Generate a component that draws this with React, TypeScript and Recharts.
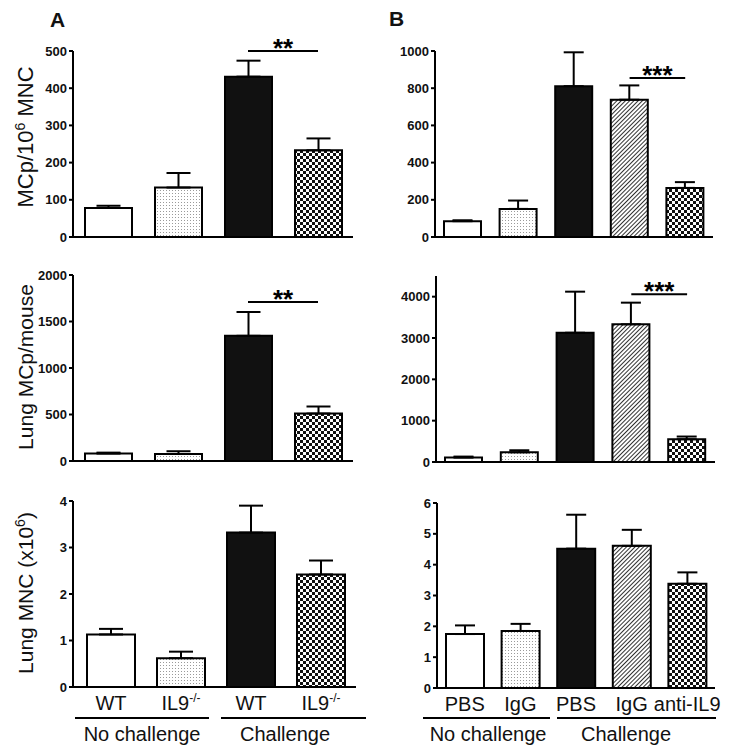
import React from "react";
import {
  Bar,
  BarChart,
  Cell,
  ErrorBar,
  ReferenceLine,
  XAxis,
  YAxis,
} from "recharts";

const FONT = '"Liberation Sans", Arial, Helvetica, sans-serif';

// categories
const keysA = ["nc-wt", "nc-il9", "c-wt", "c-il9"];
const keysB = ["nc-pbs", "nc-igg", "c-pbs", "c-igg", "c-anti"];
const tickLabelsA = ["WT", "IL9", "WT", "IL9"];
const tickSupsA = ["", "-/-", "", "-/-"];
const tickLabelsB = ["PBS", "IgG", "PBS", "IgG", "anti-IL9"];
const tickSupsB = ["", "", "", "", ""];

// panel A (WT vs IL9-/-)
const mcpPerMncA = [78, 133, 431, 233];
const mcpPerMncErrA = [6, 39, 43, 32];
const mcpPerMouseA = [80, 75, 1346, 510];
const mcpPerMouseErrA = [10, 30, 256, 76];
const lungMncA = [1.13, 0.62, 3.32, 2.42];
const lungMncErrA = [0.12, 0.14, 0.58, 0.3];

// panel B (PBS / IgG / anti-IL9)
const mcpPerMncB = [85, 151, 811, 738, 264];
const mcpPerMncErrB = [5, 45, 182, 77, 31];
const mcpPerMouseB = [107, 235, 3127, 3331, 550];
const mcpPerMouseErrB = [24, 49, 994, 524, 66];
const lungMncB = [1.75, 1.85, 4.52, 4.61, 3.38];
const lungMncErrB = [0.28, 0.23, 1.1, 0.52, 0.37];

const fillsA = ["#ffffff", "url(#dots)", "#111111", "url(#checker)"];
const fillsB = ["#ffffff", "url(#dots)", "#111111", "url(#hatch)", "url(#checker)"];

type Box = { x: number; y: number; w: number; h: number };
type Plot = { left: number; top: number; right: number; bottom: number };
type Sig = { from: string; to: string; y: number; text: string };

type PanelProps = {
  keys: string[];
  values: number[];
  errors: number[];
  fills: string[];
  domain: [number, number];
  ticks: number[];
  box: Box;
  plot: Plot;
  barSize: number;
  capWidth: number;
  padLeft?: number;
  sig?: Sig;
  tickLabels?: string[];
  tickSups?: string[];
};

function Panel({
  keys,
  values,
  errors,
  fills,
  domain,
  ticks,
  box,
  plot,
  barSize,
  capWidth,
  padLeft = 0,
  sig,
  tickLabels,
  tickSups,
}: PanelProps) {
  const data = keys.map((k, i) => ({
    key: k,
    value: values[i],
    err: [0, errors[i]],
  }));
  const xh = tickLabels ? 30 : 2;
  const margin = {
    top: plot.top - box.y,
    right: box.x + box.w - plot.right,
    bottom: box.y + box.h - plot.bottom - xh,
    left: 0,
  };

  const renderTick = (p: any) => {
    const i = p.index;
    const sup = tickSups ? tickSups[i] : "";
    return (
      <text
        x={p.x}
        y={p.y + 23}
        textAnchor="middle"
        fontFamily={FONT}
        fontSize={20}
        fill="#111"
      >
        {tickLabels![i]}
        {sup ? (
          <tspan dy={-8} fontSize={12}>
            {sup}
          </tspan>
        ) : null}
      </text>
    );
  };

  return (
    <div style={{ position: "absolute", left: box.x, top: box.y }}>
      <BarChart width={box.w} height={box.h} data={data} margin={margin}>
        <XAxis
          dataKey="key"
          type="category"
          height={xh}
          interval={0}
          tickLine={false}
          tickSize={0}
          tickMargin={0}
          padding={{ left: padLeft, right: 0 }}
          axisLine={{ stroke: "#000", strokeWidth: 2 }}
          tick={tickLabels ? renderTick : false}
        />
        <YAxis
          type="number"
          domain={domain}
          ticks={ticks}
          interval={0}
          allowDataOverflow
          width={plot.left - box.x}
          tickSize={4}
          tickMargin={2}
          axisLine={{ stroke: "#000", strokeWidth: 2 }}
          tickLine={{ stroke: "#000", strokeWidth: 2 }}
          tick={{
            fill: "#111",
            fontSize: 13,
            fontWeight: "bold",
            fontFamily: FONT,
          }}
        />
        <Bar
          dataKey="value"
          barSize={barSize}
          stroke="#000"
          strokeWidth={2}
          isAnimationActive={false}
        >
          {data.map((d, i) => (
            <Cell key={d.key} fill={fills[i]} />
          ))}
          <ErrorBar
            dataKey="err"
            direction="y"
            width={capWidth}
            stroke="#000"
            strokeWidth={2}
            isAnimationActive={false}
          />
        </Bar>
        {sig && (
          <ReferenceLine
            segment={[
              { x: sig.from, y: sig.y },
              { x: sig.to, y: sig.y },
            ]}
            stroke="#000"
            strokeWidth={2}
            ifOverflow="visible"
            label={{
              value: sig.text,
              position: "top",
              offset: -6,
              fontSize: 26,
              fontWeight: "bold",
              fill: "#000",
              fontFamily: FONT,
            }}
          />
        )}
      </BarChart>
    </div>
  );
}

export default function App() {
  return (
    <div
      style={{
        position: "absolute",
        left: 0,
        top: 0,
        width: 729,
        height: 753,
        background: "#fff",
        fontFamily: FONT,
      }}
    >
      <svg width={0} height={0} style={{ position: "absolute" }}>
        <defs>
          <pattern id="dots" width={3} height={3} patternUnits="userSpaceOnUse">
            <rect width={3} height={3} fill="#fff" />
            <rect x={1} y={1} width={1} height={1} fill="#9a9a9a" />
          </pattern>
          <pattern id="checker" width={6} height={6} patternUnits="userSpaceOnUse">
            <rect width={6} height={6} fill="#fff" />
            <rect width={3} height={3} fill="#111" />
            <rect x={3} y={3} width={3} height={3} fill="#111" />
          </pattern>
          <pattern
            id="hatch"
            width={3}
            height={3}
            patternUnits="userSpaceOnUse"
            patternTransform="rotate(45)"
          >
            <rect width={3} height={3} fill="#fff" />
            <line x1={0} y1={0} x2={0} y2={3} stroke="#1a1a1a" strokeWidth={1.8} />
          </pattern>
        </defs>
      </svg>

      <Panel
        keys={keysA}
        values={mcpPerMncA}
        errors={mcpPerMncErrA}
        fills={fillsA}
        domain={[0, 500]}
        ticks={[0, 100, 200, 300, 400, 500]}
        box={{ x: 24, y: 30, w: 336, h: 220 }}
        plot={{ left: 73, top: 51, right: 353, bottom: 237 }}
        barSize={47}
        capWidth={12}
        sig={{ from: "c-wt", to: "c-il9", y: 500, text: "**" }}
      />
      <Panel
        keys={keysA}
        values={mcpPerMouseA}
        errors={mcpPerMouseErrA}
        fills={fillsA}
        domain={[0, 2000]}
        ticks={[0, 500, 1000, 1500, 2000]}
        box={{ x: 24, y: 260, w: 336, h: 215 }}
        plot={{ left: 73, top: 275, right: 353, bottom: 461 }}
        barSize={47}
        capWidth={12}
        sig={{ from: "c-wt", to: "c-il9", y: 1710, text: "**" }}
      />
      <Panel
        keys={keysA}
        values={lungMncA}
        errors={lungMncErrA}
        fills={fillsA}
        domain={[0, 4]}
        ticks={[0, 1, 2, 3, 4]}
        box={{ x: 24, y: 490, w: 346, h: 230 }}
        plot={{ left: 73, top: 501, right: 356, bottom: 687 }}
        barSize={48}
        capWidth={12}
        padLeft={3}
        tickLabels={tickLabelsA}
        tickSups={tickSupsA}
      />
      <Panel
        keys={keysB}
        values={mcpPerMncB}
        errors={mcpPerMncErrB}
        fills={fillsB}
        domain={[0, 1000]}
        ticks={[0, 200, 400, 600, 800, 1000]}
        box={{ x: 390, y: 30, w: 339, h: 220 }}
        plot={{ left: 435, top: 51, right: 713, bottom: 237 }}
        barSize={37}
        capWidth={10}
        sig={{ from: "c-igg", to: "c-anti", y: 855, text: "***" }}
      />
      <Panel
        keys={keysB}
        values={mcpPerMouseB}
        errors={mcpPerMouseErrB}
        fills={fillsB}
        domain={[0, 4500]}
        ticks={[0, 1000, 2000, 3000, 4000]}
        box={{ x: 390, y: 260, w: 339, h: 215 }}
        plot={{ left: 436, top: 276, right: 715, bottom: 462 }}
        barSize={37}
        capWidth={10}
        sig={{ from: "c-igg", to: "c-anti", y: 4060, text: "***" }}
      />
      <Panel
        keys={keysB}
        values={lungMncB}
        errors={lungMncErrB}
        fills={fillsB}
        domain={[0, 6]}
        ticks={[0, 1, 2, 3, 4, 5, 6]}
        box={{ x: 390, y: 490, w: 339, h: 230 }}
        plot={{ left: 437, top: 503, right: 715, bottom: 688 }}
        barSize={38}
        capWidth={10}
        tickLabels={tickLabelsB}
        tickSups={tickSupsB}
      />

      <svg
        width={729}
        height={753}
        style={{ position: "absolute", left: 0, top: 0, pointerEvents: "none" }}
        fontFamily={FONT}
      >
        <text x={50} y={27} fontSize={21} fontWeight="bold" fill="#111">
          A
        </text>
        <text x={389} y={26} fontSize={21} fontWeight="bold" fill="#111">
          B
        </text>

        <text
          transform="translate(33,137) rotate(-90)"
          textAnchor="middle"
          fontSize={22}
          fill="#111"
        >
          MCp/10
          <tspan dy={-8} fontSize={14}>
            6
          </tspan>
          <tspan dy={8}>{" MNC"}</tspan>
        </text>
        <text
          transform="translate(33,367) rotate(-90)"
          textAnchor="middle"
          fontSize={21}
          fill="#111"
        >
          Lung MCp/mouse
        </text>
        <text
          transform="translate(33,593) rotate(-90)"
          textAnchor="middle"
          fontSize={21}
          fill="#111"
        >
          Lung MNC (x10
          <tspan dy={-8} fontSize={14}>
            6
          </tspan>
          <tspan dy={8}>)</tspan>
        </text>

        <g stroke="#000" strokeWidth={2}>
          <line x1={75} y1={718} x2={209} y2={718} />
          <line x1={221} y1={718} x2={366} y2={718} />
          <line x1={423} y1={718} x2={550} y2={718} />
          <line x1={557} y1={718} x2={716} y2={718} />
        </g>
        <g fontSize={20} fill="#111" textAnchor="middle">
          <text x={142} y={741}>No challenge</text>
          <text x={285} y={741}>Challenge</text>
          <text x={488} y={741}>No challenge</text>
          <text x={626} y={741}>Challenge</text>
        </g>
      </svg>
    </div>
  );
}
